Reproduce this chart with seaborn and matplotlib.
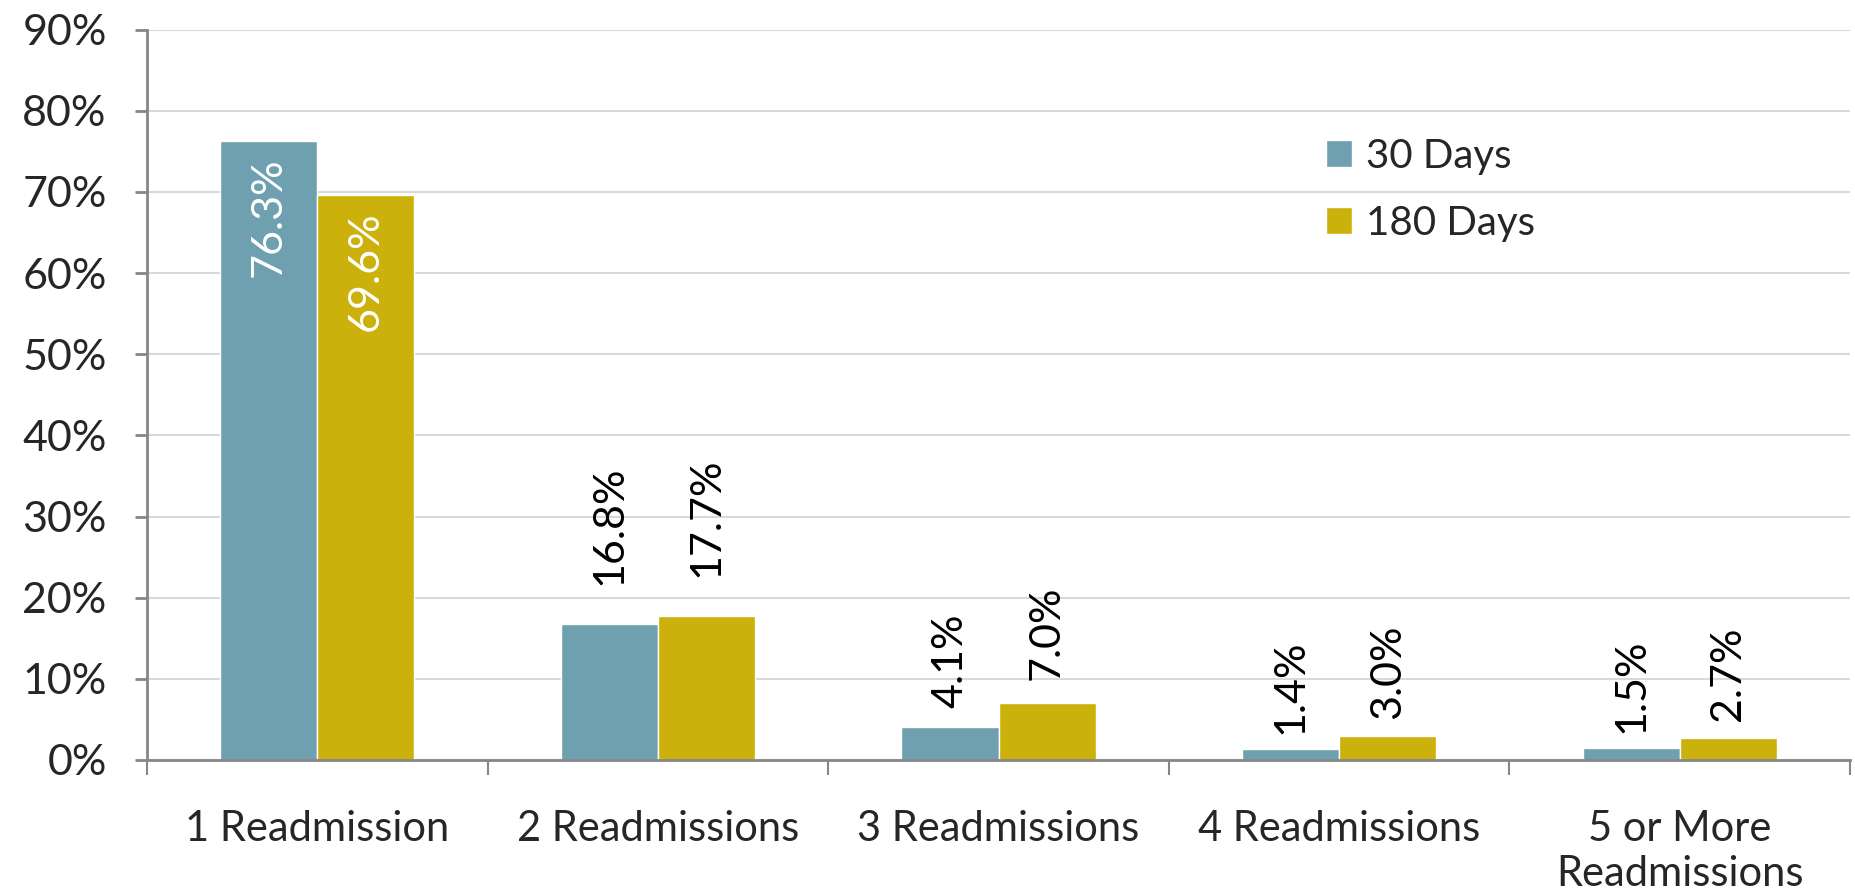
import pandas as pd
import numpy as np
import matplotlib.pyplot as plt
import seaborn as sns

# Data
categories = ["1 Readmission", "2 Readmissions", "3 Readmissions",
              "4 Readmissions", "5 or More\nReadmissions"]
days_30 = [76.3, 16.8, 4.1, 1.4, 1.5]
days_180 = [69.6, 17.7, 7.0, 3.0, 2.7]
series_names = ["30 Days", "180 Days"]
colors = ["#6FA0B0", "#CCB00C"]

df = pd.DataFrame({
    "category": categories * 2,
    "value": days_30 + days_180,
    "period": [series_names[0]] * len(categories) + [series_names[1]] * len(categories),
})

sns.set_theme(style="white")
plt.rcParams['font.family'] = ['Lato', 'DejaVu Sans']

fig = plt.figure(figsize=(18.56, 8.96), dpi=100)
ax = fig.add_axes([0.0792, 0.1518, 0.9176, 0.8152])

sns.barplot(data=df, x="category", y="value", hue="period", palette=colors,
            width=0.57, saturation=1, ax=ax)

# Axes styling
ax.set_ylim(0, 90)
ax.set_xlim(-0.5, len(categories) - 0.5)
ax.set_yticks(np.arange(0, 91, 10))
ax.set_yticklabels([f"{t}%" for t in range(0, 91, 10)])
ax.yaxis.grid(True, color="#d9d9d9", linewidth=1.5)
ax.set_axisbelow(True)
ax.set_xlabel("")
ax.set_ylabel("")

for side in ["top", "right"]:
    ax.spines[side].set_visible(False)
for side in ["left", "bottom"]:
    ax.spines[side].set_color("#868686")
    ax.spines[side].set_linewidth(2)

ax.tick_params(axis="y", which="major", length=9, width=2, color="#868686",
               labelsize=31, pad=20, direction="out", left=True)
ax.tick_params(axis="x", which="major", length=0, labelsize=30, pad=36)
ax.set_xticks(np.arange(-0.5, len(categories)), minor=True)
ax.tick_params(axis="x", which="minor", length=11, width=1.5, color="#868686",
               direction="out", bottom=True)
for lbl in ax.get_xticklabels():
    lbl.set_linespacing(1.22)

# Data labels (inside for tall bars, above for short ones)
for container in ax.containers:
    for bar in container:
        h = bar.get_height()
        x = bar.get_x() + bar.get_width() / 2
        if h > 30:
            ax.annotate(f"{h:.1f}%", (x, h), xytext=(0, -12), textcoords="offset points",
                        rotation=90, ha="center", va="top", color="white", fontsize=31)
        else:
            ax.annotate(f"{h:.1f}%", (x, h), xytext=(0, 9 + 1.1 * h), textcoords="offset points",
                        rotation=90, ha="center", va="bottom", color="black", fontsize=31)

# Legend
handles, labels = ax.get_legend_handles_labels()
ax.legend(handles, labels, loc="upper left", bbox_to_anchor=(0.692, 0.852),
          frameon=False, fontsize=29, handlelength=0.65, handleheight=0.65,
          handletextpad=0.35, labelspacing=0.75, borderpad=0, borderaxespad=0)

fig.savefig("out.png", dpi=100)
